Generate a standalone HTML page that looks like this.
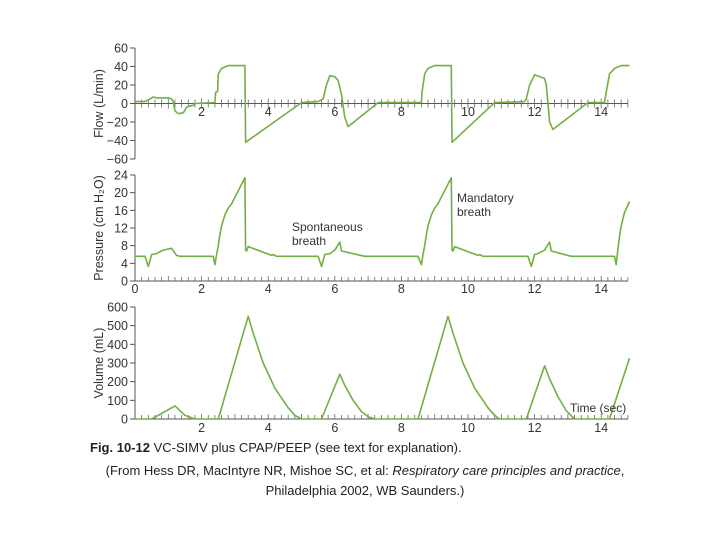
<!DOCTYPE html>
<html><head><meta charset="utf-8"><style>
html,body{margin:0;padding:0;background:#fff;}
svg{display:block;font-family:"Liberation Sans",Arial,sans-serif;}
</style></head><body>
<svg id="chart" width="720" height="540" viewBox="0 0 720 540" xmlns="http://www.w3.org/2000/svg">
<g id="g"></g>
<text x="292" y="231" font-size="12" fill="#333">Spontaneous</text>
<text x="292" y="245" font-size="12" fill="#333">breath</text>
<text x="457" y="202" font-size="12" fill="#333">Mandatory</text>
<text x="457" y="216" font-size="12" fill="#333">breath</text>
<text x="570" y="412" font-size="12" fill="#333">Time (sec)</text>
<text x="90" y="452" font-size="13" fill="#222"><tspan font-weight="bold">Fig. 10-12</tspan> VC-SIMV plus CPAP/PEEP (see text for explanation).</text>
<text x="365" y="475" font-size="13" fill="#222" text-anchor="middle">(From Hess DR, MacIntyre NR, Mishoe SC, et al: <tspan font-style="italic">Respiratory care principles and practice</tspan>,</text>
<text x="365" y="495" font-size="13" fill="#222" text-anchor="middle">Philadelphia 2002, WB Saunders.)</text>
</svg>
<script>
const flowT=[0,0.3,0.45,0.55,0.65,1.0,1.1,1.15,1.2,1.3,1.45,1.55,1.6,1.75,1.8,2.4,2.42,2.48,2.5,2.6,2.8,3.3,3.32,5.0,5.5,5.6,5.65,5.75,5.85,6.0,6.1,6.2,6.3,6.4,7.3,8.6,8.62,8.7,8.8,9.0,9.5,9.52,10.8,11.7,11.75,11.85,12.0,12.3,12.35,12.45,12.55,13.6,14.1,14.15,14.25,14.4,14.6,14.85];
const flowV=[2,2,5,7,6,6,5,2,-8,-11,-10,-4,-3,-2,0,1,12,13,32,38,41,41,-42,1,2,4,5,20,30,29,25,10,-15,-25,1,1,12,32,38,41,41,-42,1,2,5,20,31,27,20,-20,-28,1,1,12,32,38,41,41];
const presT=[0,0.3,0.4,0.5,0.65,0.85,1.1,1.25,1.35,2.35,2.4,2.45,2.5,2.55,2.6,2.7,2.8,2.9,3.3,3.32,3.35,3.4,4.1,4.15,4.25,5.5,5.6,5.7,5.85,6.0,6.15,6.2,6.9,8.5,8.6,8.65,8.7,8.75,8.8,8.9,9.0,9.1,9.5,9.52,9.55,9.6,10.3,10.35,10.45,11.8,11.9,12.0,12.1,12.3,12.45,12.5,13.1,14.4,14.45,14.5,14.55,14.6,14.7,14.85];
const presV=[5.6,5.6,3.3,6,6.2,7,7.4,5.8,5.6,5.6,3.7,6,8,10.5,12.5,15,16.5,17.5,23.4,7,6.8,7.8,5.8,6,5.6,5.6,3.3,6,6.2,7,8.8,6.8,5.6,5.6,3.7,6,8,10.5,12.5,15,16.5,17.5,23.4,7,6.8,7.8,5.8,6,5.6,5.6,3.3,6,6.2,7,8.8,6.8,5.6,5.6,3.7,7,10,12.5,15.5,18];
const volT=[0,0.5,1.2,1.5,1.8,2.5,3.4,3.55,3.85,4.2,4.6,4.8,5.0,5.6,6.15,6.3,6.55,6.8,7.0,7.2,8.5,9.4,9.55,9.85,10.2,10.6,10.8,10.95,11.75,12.3,12.45,12.7,12.95,13.2,14.25,14.85];
const volV=[0,0,70,20,0,0,550,460,300,165,60,20,0,0,240,180,100,40,12,0,0,550,460,300,165,60,20,0,0,285,215,120,45,0,0,325];
const flowTicks=[60,40,20,0,-20,-40,-60];
const presTicks=[24,20,16,12,8,4,0];
const volTicks=[600,500,400,300,200,100,0];
const xLabelsFlow=[2,4,6,8,10,12,14];
const xLabelsPres=[0,2,4,6,8,10,12,14];
const xLabelsVol=[2,4,6,8,10,12,14];

const NS='http://www.w3.org/2000/svg';
const g=document.getElementById('g');
const X0=135, XS=33.3, XEND=628;
const xs=t=>X0+t*XS;
function mk(tag,attrs,parent){const e=document.createElementNS(NS,tag);for(const k in attrs)e.setAttribute(k,attrs[k]);(parent||g).appendChild(e);return e;}
const panels=[
 {name:'flow',top:48,bot:159,min:-60,max:60,ticks:flowTicks,xl:xLabelsFlow,T:flowT,V:flowV,title:'Flow (L/min)',zeroMid:true,lblY:116},
 {name:'pressure',top:175,bot:281,min:0,max:24,ticks:presTicks,xl:xLabelsPres,T:presT,V:presV,title:'Pressure (cm H\u2082O)',lblY:293},
 {name:'volume',top:307,bot:419,min:0,max:600,ticks:volTicks,xl:xLabelsVol,T:volT,V:volV,title:'Volume (mL)',lblY:432}
];
panels.forEach(p=>{
  const ys=v=>p.bot-(v-p.min)/(p.max-p.min)*(p.bot-p.top);
  const pg=mk('g',{});
  
  
  const ya=mk('line',{x1:X0,y1:p.top,x2:X0,y2:p.bot,stroke:'#555','stroke-width':1},pg);
  
  
  const y0=ys(0);
  const xa=mk('line',{x1:X0,y1:y0,x2:XEND,y2:y0,stroke:'#555','stroke-width':1},pg);
  
  
  p.ticks.forEach(v=>{
    const y=ys(v);
    mk('line',{x1:X0-5,y1:y,x2:X0,y2:y,stroke:'#555'},pg);
    const t=mk('text',{x:X0-7,y:y+4.5,'font-size':12.5,'text-anchor':'end',fill:'#333'},pg);
    t.textContent=(v<0?'\u2212'+(-v):v);
    
    
  });
  for(let i=1;i*0.2<=14.8;i++){
    const x=xs(i*0.2);
    const big=(i%5===0);
    mk('line',{x1:x,y1:y0-(big?5:4),x2:x,y2:p.zeroMid?y0+(big?5:4):y0,stroke:'#666','stroke-width':0.8},pg);
  }
  p.xl.forEach(v=>{
    const t=mk('text',{x:xs(v),y:p.lblY,'font-size':12.5,'text-anchor':'middle',fill:'#333'},pg);
    t.textContent=v;
    
    
  });
  const ty=(p.top+p.bot)/2;
  const tt=mk('text',{x:103,y:ty,'font-size':12.5,'text-anchor':'middle',fill:'#333',transform:'rotate(-90 103 '+ty+')'},pg);
  tt.textContent=p.title;
  
  
  const d=p.T.map((t,i)=>(i?'L':'M')+xs(t).toFixed(1)+' '+ys(p.V[i]).toFixed(1)).join(' ');
  const ln=mk('path',{d:d,fill:'none',stroke:'#72b043','stroke-width':1.6,'stroke-linejoin':'round'},pg);
  
  
});
</script>
</body></html>
